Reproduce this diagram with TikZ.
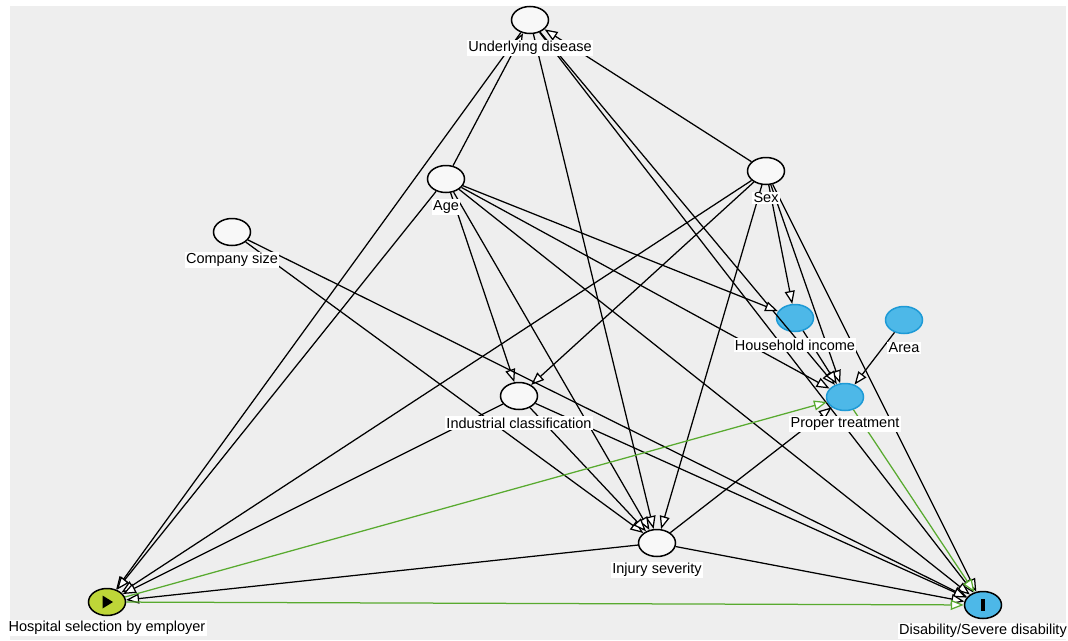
\documentclass[tikz,border=0pt]{standalone}
\usepackage{fontspec}
\newfontfamily\labfont{Liberation Sans}
\usetikzlibrary{shapes.geometric,arrows.meta}
\definecolor{bgcol}{HTML}{EEEEEE}
\definecolor{nodefill}{HTML}{F8F8F8}
\definecolor{bluefill}{HTML}{4DB8E8}
\definecolor{bluedraw}{HTML}{1E9AD6}
\definecolor{expfill}{HTML}{BED638}
\definecolor{greenline}{HTML}{58AA2F}
\tikzset{
  var/.style={ellipse, draw=black, line width=1.5pt, fill=nodefill, minimum width=37pt, minimum height=27pt, inner sep=0pt},
  bluevar/.style={var, draw=bluedraw, fill=bluefill},
  lab/.style={fill=white, inner sep=1.2pt, font=\labfont\fontsize{14.5}{16}\selectfont},
  edge/.style={line width=1.25pt, draw=black, -{Triangle[length=13pt, width=10pt, fill=white]}},
  gedge/.style={edge, draw=greenline},
}
\begin{document}
\begin{tikzpicture}[x=1pt,y=-1pt]
\useasboundingbox (0,0) rectangle (1068,640);
\fill[white] (0,0) rectangle (1068,640);
\fill[bgcol] (10,6) rectangle (1066,640);
% nodes
\node[var] (U) at (530,20) {};
\node[var] (A) at (446,179) {};
\node[var] (S) at (766,171) {};
\node[var] (C) at (232,232) {};
\node[bluevar] (H) at (795,318) {};
\node[bluevar] (Ar) at (904,320) {};
\node[bluevar] (P) at (845,397) {};
\node[var] (I) at (519,396) {};
\node[var] (J) at (657,543) {};
\node[var, fill=expfill] (E) at (107,602) {};
\node[var, fill=bluefill] (D) at (983,605) {};
\fill[black] (102.5,595.5) -- (102.5,608.5) -- (113,602) -- cycle;
\fill[black] (981.3,599) rectangle (984.7,611);
% edges
\draw[edge] (A) -- (U);
\draw[edge] (S) -- (U);
\draw[edge] (U) -- (E);
\draw[edge] (U) -- (J);
\draw[edge] (U) -- (P);
\draw[edge] (U) -- (D);
\draw[edge] (A) -- (E);
\draw[edge] (A) -- (I);
\draw[edge] (A) -- (J);
\draw[edge] (A) -- (H);
\draw[edge] (A) -- (P);
\draw[edge] (A) -- (D);
\draw[edge] (S) -- (E);
\draw[edge] (S) -- (I);
\draw[edge] (S) -- (J);
\draw[edge] (S) -- (H);
\draw[edge] (S) -- (P);
\draw[edge] (S) -- (D);
\draw[edge] (C) -- (J);
\draw[edge] (C) -- (D);
\draw[edge] (I) -- (E);
\draw[edge] (I) -- (J);
\draw[edge] (I) -- (D);
\draw[edge] (H) -- (P);
\draw[edge] (Ar) -- (P);
\draw[edge] (J) -- (E);
\draw[edge] (J) -- (P);
\draw[edge] (J) -- (D);
\draw[gedge] (E) -- (P);
\draw[gedge] (E) -- (D);
\draw[gedge] (P) -- (D);
% labels
\node[lab] (Ul) at (530,48) {Underlying disease};
\node[lab] (Al) at (446,207) {Age};
\node[lab] (Sl) at (766,198) {Sex};
\node[lab] (Cl) at (232,260) {Company size};
\node[lab] (Hl) at (795,345) {Household income};
\node[lab] (Arl) at (904,348) {Area};
\node[lab] (Pl) at (845,424) {Proper treatment};
\node[lab] (Il) at (519,423) {Industrial classification};
\node[lab] (Jl) at (657,570) {Injury severity};
\node[lab] (El) at (107,628) {Hospital selection by employer};
\node[lab] (Dl) at (983,631) {Disability/Severe disability};
\end{tikzpicture}
\end{document}
